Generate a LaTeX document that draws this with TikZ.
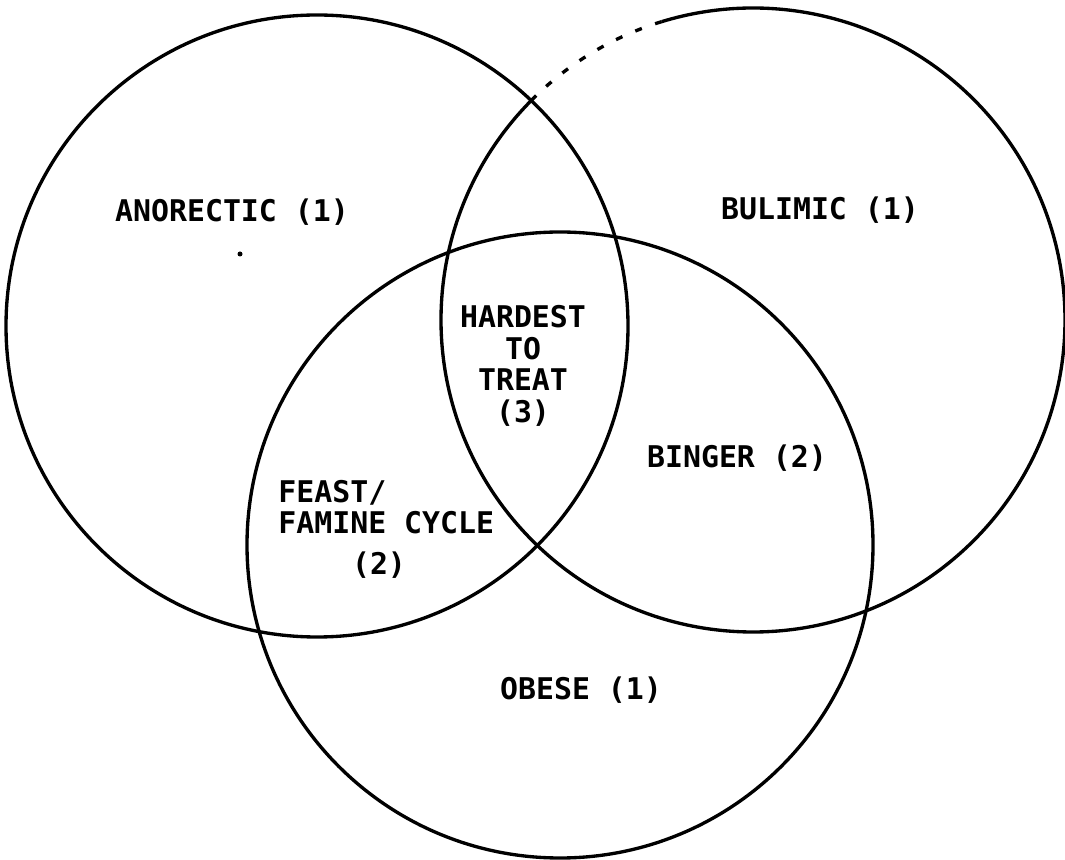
\documentclass[tikz,border=0pt]{standalone}
\usepackage{fontspec}
\newfontfamily\plotfont{DejaVu Sans Mono}
\usetikzlibrary{positioning}

\begin{document}
\begin{tikzpicture}[x=.02cm,y=.02cm,
  ring/.style={draw,line width=1.9pt},
  lbl/.style={font=\plotfont\bfseries\fontsize{17}{18}\selectfont,inner sep=0pt,align=center}]
  \useasboundingbox (0,0) rectangle (1065,859);
  \coordinate (cl) at (317,533);
  \coordinate (cr) at (753,539);
  \coordinate (cb) at (560,314);
  \draw[ring] (cl) circle[radius=311];
  \draw[ring] (cr) ++(134:312) arc[start angle=134,end angle=467,radius=312];
  \draw[ring,dash pattern=on 4pt off 8pt] (cr) ++(107:312) arc[start angle=107,end angle=134,radius=312];
  \draw[ring] (cb) circle[radius=313];
  \fill (240,605) circle[radius=2.5];
  \node[lbl] (anorectic) at (232,647) {ANORECTIC (1)};
  \node[lbl] (bulimic) at (820,649) {BULIMIC (1)};
  \node[lbl] (hardest) at (523,493) {HARDEST\\TO\\TREAT\\(3)};
  \node[lbl] (binger) at (737,401) {BINGER (2)};
  \node[lbl,anchor=west,align=left] (feast) at (278,352) {FEAST/\\FAMINE CYCLE};
  \node[lbl] (feastnum) at (379,294) {(2)};
  \node[lbl] (obese) at (581,169) {OBESE (1)};
\end{tikzpicture}
\end{document}
